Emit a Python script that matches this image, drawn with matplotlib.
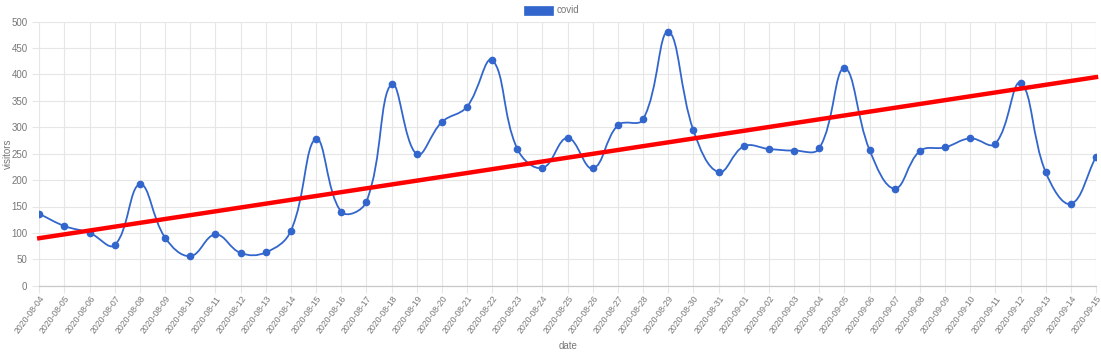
import numpy as np
import pandas as pd
import matplotlib
matplotlib.use("Agg")
import matplotlib.pyplot as plt
from matplotlib.path import Path
from matplotlib.patches import PathPatch, Rectangle

plt.rcParams["font.family"] = ["Liberation Sans", "DejaVu Sans"]

# data
dates = pd.date_range("2020-08-04", "2020-09-15").strftime("%Y-%m-%d").tolist()
visitors = [136, 113, 100, 77, 192, 91, 56, 97, 62, 63, 104, 278, 140, 159,
            382, 249, 310, 339, 427, 259, 223, 280, 222, 304, 315, 481, 294,
            215, 264, 259, 256, 260, 412, 257, 184, 255, 262, 279, 269, 384,
            215, 155, 244]
trend_start = 90
trend_end = 395

BLUE = "#3366cc"
GRID = "#e6e6e6"
TEXT = "#777777"

W, H = 1101, 354
fig = plt.figure(figsize=(W / 100, H / 100), dpi=100)
left, right, top, bottom = 39.3, 1096.0, 21.7, 285.7
ax = fig.add_axes([left / W, 1 - bottom / H, (right - left) / W, (bottom - top) / H])

x = np.arange(len(dates))
y = np.array(visitors, dtype=float)
ax.set_xlim(0, len(dates) - 1)
ax.set_ylim(0, 500)

# pixel scale so the spline tension works like chart.js
sx = (right - left) / (len(dates) - 1)
sy = (bottom - top) / 500.0


def chartjs_path(xs, ys, tension=0.4):
    n = len(xs)
    cp_prev = [None] * n
    cp_next = [None] * n
    for i in range(n):
        p = np.array([xs[i], ys[i]])
        a = np.array([xs[max(i - 1, 0)], ys[max(i - 1, 0)]])
        b = np.array([xs[min(i + 1, n - 1)], ys[min(i + 1, n - 1)]])
        d01 = np.hypot((p[0] - a[0]) * sx, (p[1] - a[1]) * sy)
        d12 = np.hypot((b[0] - p[0]) * sx, (b[1] - p[1]) * sy)
        tot = d01 + d12
        s01 = d01 / tot if tot else 0
        s12 = d12 / tot if tot else 0
        cp_prev[i] = p - tension * s01 * (b - a)
        cp_next[i] = p + tension * s12 * (b - a)
    verts = [(xs[0], ys[0])]
    codes = [Path.MOVETO]
    for i in range(1, n):
        c1 = np.clip(cp_next[i - 1], [0, 0], [n - 1, 500])
        c2 = np.clip(cp_prev[i], [0, 0], [n - 1, 500])
        verts += [tuple(c1), tuple(c2), (xs[i], ys[i])]
        codes += [Path.CURVE4] * 3
    return Path(verts, codes)


# grid
ax.set_yticks(np.arange(0, 501, 50))
ax.set_xticks(x)
ax.grid(True, color=GRID, linewidth=0.8)
ax.set_axisbelow(True)
for s in ["top", "right", "left"]:
    ax.spines[s].set_visible(False)
ax.spines["bottom"].set_color("#c8c8c8")
ax.spines["bottom"].set_linewidth(0.9)

ax.tick_params(axis="both", colors=GRID, length=5, width=0.8, labelcolor=TEXT, labelsize=7)
ax.tick_params(axis="x", pad=1, labelsize=6.2)
ax.set_xticklabels(dates, rotation=54, ha="right", rotation_mode="anchor")

curve = chartjs_path(x, y)
ax.add_patch(PathPatch(curve, facecolor="none", edgecolor=BLUE, linewidth=1.3, zorder=3))
ax.plot(x, y, "o", color=BLUE, markersize=4.5, zorder=4)

ax.plot([x[0], x[-1]], [trend_start, trend_end], color="#ff0000", linewidth=3.2,
        solid_capstyle="projecting", clip_on=False, zorder=5)

ax.set_ylabel("visitors", color=TEXT, fontsize=7)
ax.set_xlabel("date", color=TEXT, fontsize=7)
ax.yaxis.set_label_coords((8 - left) / (right - left), 0.5)
ax.xaxis.set_label_coords(0.5, -(346 - bottom) / (bottom - top))
ax.xaxis.label.set_va("center")
ax.yaxis.label.set_va("center")

# legend like chart.js
fig.patches.append(Rectangle((524.3 / W, 1 - 14.7 / H), 28.4 / W, 9 / H,
                             transform=fig.transFigure, facecolor=BLUE,
                             edgecolor=BLUE, linewidth=0.5))
fig.text(557 / W, 1 - 10.2 / H, "covid", color=TEXT, fontsize=7, va="center", ha="left")

fig.savefig("out.png", dpi=100)
